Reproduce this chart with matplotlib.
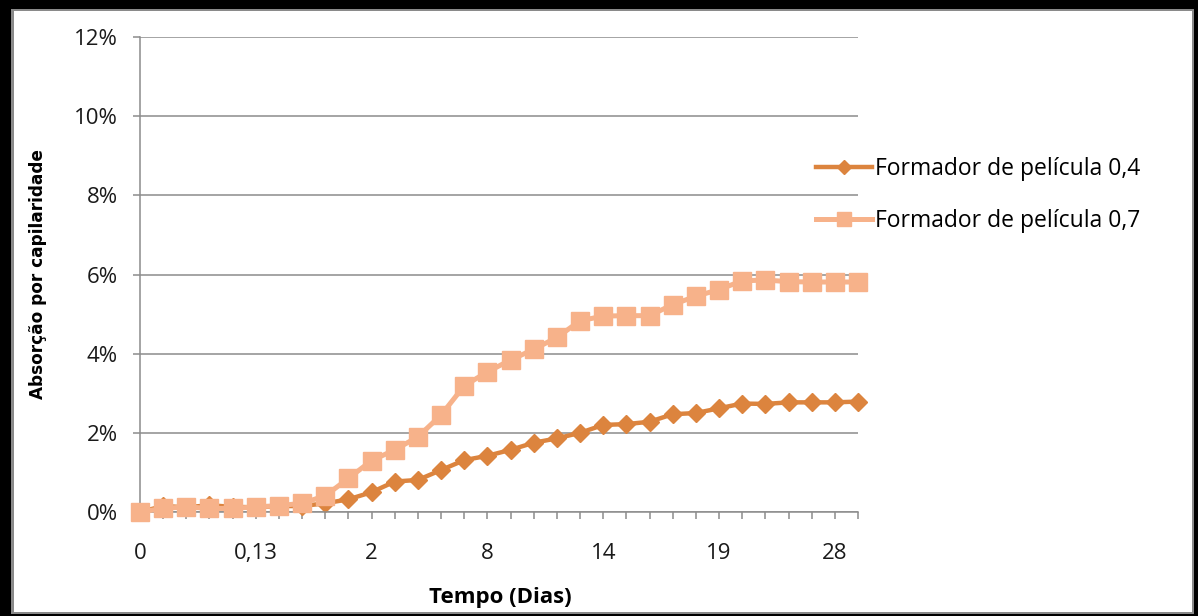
import matplotlib
matplotlib.use("Agg")
import matplotlib.pyplot as plt
from matplotlib.patches import Rectangle
from matplotlib.ticker import FuncFormatter

# absorption (%), one value per reading (32 readings)
serie_04 = [0.00, 0.15, 0.12, 0.17, 0.13, 0.12, 0.15, 0.15, 0.22, 0.32,
            0.50, 0.77, 0.81, 1.06, 1.31, 1.42, 1.57, 1.75, 1.86, 2.00,
            2.20, 2.22, 2.28, 2.47, 2.50, 2.62, 2.74, 2.73, 2.77, 2.77,
            2.77, 2.79]
serie_07 = [0.00, 0.09, 0.13, 0.09, 0.09, 0.13, 0.16, 0.22, 0.41, 0.85,
            1.30, 1.57, 1.90, 2.45, 3.19, 3.54, 3.84, 4.11, 4.41, 4.83,
            4.95, 4.96, 4.96, 5.24, 5.45, 5.62, 5.84, 5.86, 5.82, 5.81,
            5.81, 5.81]
x_labels = ['0', '0,13', '2', '8', '14', '19', '28']
label_every = 5
y_ticks = [0, 2, 4, 6, 8, 10, 12]
nomes = ['Formador de película 0,4', 'Formador de película 0,7']

W, H = 1198, 616
fig = plt.figure(figsize=(W / 100, H / 100), dpi=100)
fig.patch.set_facecolor('black')

# grey + white frame like the screenshot
fig.add_artist(Rectangle((11 / W, 2 / H), 1183 / W, 605 / H, transform=fig.transFigure,
                         facecolor='#8a8a8a', edgecolor='none', zorder=-10))
fig.add_artist(Rectangle((14 / W, 4 / H), 1178 / W, 601 / H, transform=fig.transFigure,
                         facecolor='white', edgecolor='none', zorder=-9))

ax = fig.add_axes([140 / W, 1 - 512 / H, 718 / W, 475 / H])
ax.patch.set_alpha(0)

x = list(range(len(serie_04)))
c04 = '#DC843E'
c07 = '#F7B28A'

ax.plot(x, serie_07, color=c07, lw=3.6, marker='s', ms=12.5, mec=c07, mfc=c07,
        label=nomes[1], zorder=3, clip_on=False)
ax.plot(x, serie_04, color=c04, lw=3.2, marker='D', ms=9, mec=c04, mfc=c04,
        label=nomes[0], zorder=2, clip_on=False)

ax.set_xlim(0, len(x) - 1)
ax.set_ylim(0, 12)
ax.set_yticks(y_ticks)
ax.yaxis.set_major_formatter(FuncFormatter(lambda v, p: '%d%%' % v))
ax.set_xticks(x)
ax.set_xticklabels([x_labels[i // label_every] if i % label_every == 0 else '' for i in x])

grid_c = '#8c8c8c'
ax.grid(axis='y', color=grid_c, lw=1.1)
ax.set_axisbelow(True)
for s in ['top', 'right']:
    ax.spines[s].set_visible(False)
for s in ['left', 'bottom']:
    ax.spines[s].set_color(grid_c)
    ax.spines[s].set_linewidth(1.1)

ax.tick_params(axis='y', length=5, color=grid_c, width=1.1, pad=11, labelsize=16,
               labelcolor='#1a1a1a')
ax.tick_params(axis='x', length=5, color=grid_c, width=1.1, pad=17, labelsize=16,
               labelcolor='#1a1a1a')
for t in ax.get_xticklabels() + ax.get_yticklabels():
    t.set_fontfamily('Open Sans')

fig.text(500 / W, 1 - 597 / H, 'Tempo (Dias)', ha='center', va='center',
         fontsize=16, fontweight='bold', family='Open Sans')
fig.text(38 / W, 1 - 274 / H, 'Absorção por capilaridade', ha='center', va='center',
         rotation=90, fontsize=12.2, fontweight='bold', family='DejaVu Sans')

h, l = ax.get_legend_handles_labels()
leg = ax.legend(h[::-1], l[::-1], loc='center left', bbox_to_anchor=(795 / W, 1 - 195 / H),
                bbox_transform=fig.transFigure, frameon=False, handlelength=2.45,
                handletextpad=0.15, labelspacing=1.2, markerscale=0.75,
                prop={'family': 'Open Sans', 'size': 16.5})

fig.savefig('out.png', dpi=100)
